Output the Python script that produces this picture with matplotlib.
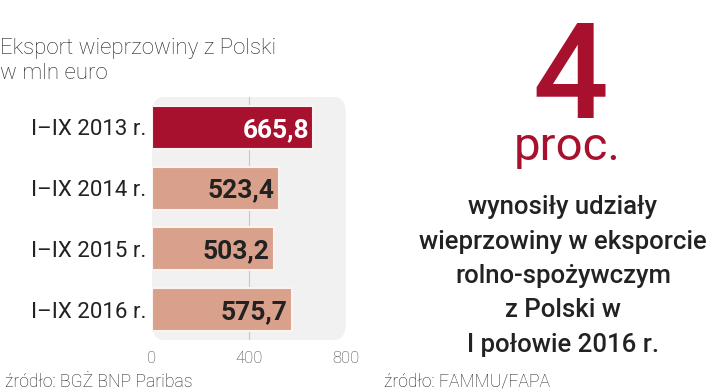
import matplotlib
matplotlib.use("Agg")
import matplotlib.pyplot as plt
from matplotlib.patches import FancyBboxPatch
import matplotlib.patheffects as pe

categories = ["I–IX 2013 r.", "I–IX 2014 r.", "I–IX 2015 r.", "I–IX 2016 r."]
values = [665.8, 523.4, 503.2, 575.7]
value_labels = ["665,8", "523,4", "503,2", "575,7"]
xticks = [0, 400, 800]

DARK_RED = "#a8112e"
SALMON = "#d9a18c"
TEXT = "#222222"

fig = plt.figure(figsize=(7.2, 3.91), dpi=100)
fig.patch.set_facecolor("white")

ax = fig.add_axes([152 / 720, 1 - 340 / 391, 194 / 720, 243 / 391])
ax.set_xlim(0, 800)
ax.set_ylim(3.5, -0.5)
ax.set_facecolor("none")
for s in ax.spines.values():
    s.set_visible(False)

# panel background with rounded corners
panel = FancyBboxPatch((0.0, 0.0), 1.0, 1.0, boxstyle="round,pad=0,rounding_size=0.06",
                       transform=ax.transAxes, facecolor="#f1f1f1", edgecolor="none",
                       zorder=0, mutation_aspect=243 / 194)
ax.add_patch(panel)
ax.axvline(400, color="#c8c8c8", linewidth=0.8, zorder=1)

colors = [DARK_RED] + [SALMON] * (len(values) - 1)
bars = ax.barh(range(len(values)), values, height=0.71, color=colors,
               edgecolor="#fbf3f0", linewidth=1.5, zorder=2)
for b in bars:
    b.set_path_effects([pe.SimplePatchShadow(offset=(0.6, -0.6), shadow_rgbFace="#bbbbbb", alpha=0.5),
                        pe.Normal()])

for i, (v, lab) in enumerate(zip(values, value_labels)):
    ax.text(v - 18, i + 0.04, lab, ha="right", va="center", fontsize=19,
            fontweight="bold", family="Roboto",
            color="white" if i == 0 else TEXT, zorder=3)

ax.set_yticks(range(len(categories)))
ax.set_yticklabels(categories, fontsize=16, color=TEXT, family="Roboto")
ax.tick_params(axis="y", length=0, pad=4)
ax.set_xticks(xticks)
ax.set_xticklabels([str(t) for t in xticks], fontsize=12, color="#444444",
                   family="Roboto", fontweight="light")
ax.tick_params(axis="x", length=0, pad=8)

fig.text(0.0, 1 - 61 / 391, "Eksport wieprzowiny z Polski\nw mln euro", ha="left",
         va="center", fontsize=16, family="Roboto", fontweight="light",
         color=TEXT, linespacing=1.25)

fig.text(5 / 720, 1 - 382 / 391, "źródło: BGŻ BNP Paribas", ha="left", va="center",
         fontsize=12.7, family="Roboto", fontweight="light", color=TEXT)
fig.text(384 / 720, 1 - 382 / 391, "źródło: FAMMU/FAPA", ha="left", va="center",
         fontsize=12.7, family="Roboto", fontweight="light", color=TEXT)

# right side highlight
fig.text(570 / 720, 1 - 118 / 391, "4", ha="center", va="baseline", fontsize=96,
         family="Roboto", fontweight="medium", color=DARK_RED)
fig.text(567 / 720, 1 - 160 / 391, "proc.", ha="center", va="baseline", fontsize=34,
         family="Roboto", fontweight="regular", color=DARK_RED)
fig.text(563 / 720, 1 - 276 / 391,
         "wynosiły udziały\nwieprzowiny w eksporcie\nrolno-spożywczym\nz Polski w\nI połowie 2016 r.",
         ha="center", va="center", fontsize=18.5, family="Roboto", fontweight="medium",
         color=TEXT, linespacing=1.55)

fig.savefig("out.png", dpi=100)
